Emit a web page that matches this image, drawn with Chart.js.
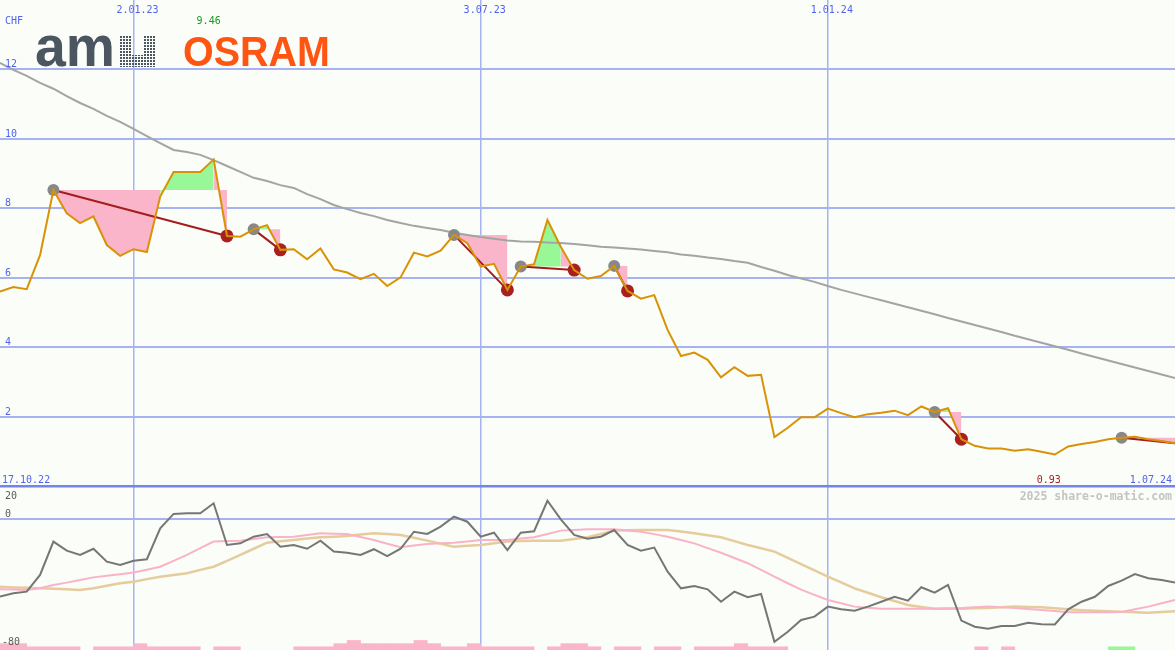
<!DOCTYPE html>
<html>
<head>
<meta charset="utf-8">
<script src="https://cdn.jsdelivr.net/npm/chart.js@4.4.1/dist/chart.umd.min.js"></script>
<style>
  html, body { margin: 0; padding: 0; background: #fbfdf9; }
  #wrap { position: relative; width: 1175px; height: 650px; overflow: hidden; }
  #priceChart { position: absolute; left: 0; top: 0; }
  #oscChart { position: absolute; left: 0; top: 490px; }
</style>
</head>
<body>
<div id="wrap">
  <canvas id="priceChart" width="1175" height="490"></canvas>
  <canvas id="oscChart" width="1175" height="160"></canvas>
</div>
<script>
// weekly closes, week 0 = 24.10.22
const price = [5.60, 5.73, 5.67, 6.65, 8.52, 7.85, 7.57, 7.76, 6.94, 6.63,
  6.82, 6.74, 8.33, 9.04, 9.04, 9.04, 9.40, 7.20, 7.18, 7.39,
  7.51, 6.80, 6.82, 6.53, 6.84, 6.24, 6.15, 5.96, 6.11, 5.76,
  6.01, 6.72, 6.61, 6.78, 7.23, 6.99, 6.32, 6.40, 5.65, 6.32,
  6.39, 7.66, 6.89, 6.22, 5.97, 6.05, 6.34, 5.62, 5.40, 5.50,
  4.50, 3.75, 3.85, 3.64, 3.14, 3.43, 3.18, 3.21, 1.42, 1.69,
  1.99, 1.99, 2.24, 2.11, 1.99, 2.08, 2.12, 2.18, 2.05, 2.30,
  2.14, 2.25, 1.36, 1.17, 1.09, 1.09, 1.03, 1.07, 1.00, 0.92,
  1.15, 1.22, 1.28, 1.36, 1.40, 1.43, 1.36, 1.31, 1.24];

const avg = [12.17, 11.97, 11.80, 11.60, 11.43, 11.22, 11.02, 10.85, 10.65, 10.48,
  10.28, 10.07, 9.87, 9.67, 9.61, 9.53, 9.38, 9.21, 9.04, 8.87,
  8.78, 8.66, 8.58, 8.40, 8.26, 8.09, 7.97, 7.86, 7.77, 7.66,
  7.57, 7.49, 7.43, 7.37, 7.29, 7.23, 7.17, 7.12, 7.07, 7.04,
  7.03, 7.01, 7.00, 6.97, 6.93, 6.89, 6.87, 6.84, 6.81, 6.77,
  6.73, 6.67, 6.63, 6.58, 6.54, 6.48, 6.43, 6.31, 6.20, 6.08,
  5.98, 5.88, 5.76, 5.65, 5.55, 5.45, 5.35, 5.25, 5.15, 5.05,
  4.95, 4.84, 4.74, 4.64, 4.54, 4.44, 4.33, 4.23, 4.13, 4.03,
  3.93, 3.82, 3.72, 3.62, 3.52, 3.42, 3.32, 3.22, 3.12];

// buy / sell signals (week index)
const entryIdx = [4, 19, 34, 39, 46, 70, 84];
const exitIdx = [17, 21, 38, 43, 47, 72];
const lastIdx = 88;

const osc = [-48.5, -46.4, -45.4, -34.9, -13.9, -19.6, -22.3, -18.4, -26.5, -28.6,
  -25.9, -25.0, -5.5, 3.5, 3.9, 3.9, 10.2, -16.0, -15.0, -10.8,
  -9.1, -17.1, -16.0, -18.4, -13.3, -20.2, -20.9, -22.3, -18.7, -23.0,
  -18.4, -7.7, -9.1, -4.5, 1.8, -1.4, -10.8, -8.3, -19.2, -8.3,
  -7.4, 11.8, 0.1, -9.7, -12.1, -10.8, -6.6, -16.0, -19.6, -17.7,
  -32.8, -43.3, -41.8, -43.9, -51.7, -45.4, -48.9, -46.9, -76.9, -70.6,
  -63.2, -61.1, -54.8, -56.5, -57.4, -54.8, -51.7, -48.6, -51.1, -42.6,
  -46.0, -41.2, -63.6, -67.4, -68.7, -67.0, -67.0, -64.9, -65.9, -66.0,
  -56.5, -51.7, -48.6, -41.8, -38.5, -34.3, -37.0, -38.1, -39.7];

const oscFast = [-43.9, -44.1, -44.3, -43.3, -41.2, -39.7, -38.0, -36.4, -35.4, -34.4,
  -33.4, -31.6, -29.7, -26.0, -22.3, -18.0, -13.9, -13.6, -13.3, -12.2,
  -11.2, -11.0, -10.8, -9.7, -8.7, -8.9, -9.1, -11.0, -12.9, -15.2,
  -17.5, -16.4, -15.4, -15.0, -14.6, -13.8, -12.9, -12.9, -12.9, -12.0,
  -11.2, -9.1, -7.0, -6.6, -6.2, -6.2, -6.2, -6.9, -7.7, -9.2,
  -10.8, -12.9, -15.0, -18.0, -20.9, -24.2, -27.5, -31.7, -36.0, -40.1,
  -44.1, -47.4, -50.6, -52.7, -54.8, -55.5, -56.1, -56.1, -56.1, -56.1,
  -56.1, -55.9, -55.7, -55.2, -54.8, -55.2, -55.7, -56.3, -56.9, -57.6,
  -58.4, -58.4, -58.4, -58.3, -58.2, -56.5, -54.8, -52.7, -50.6];

const oscSlow = [-42.3, -42.7, -43.0, -43.3, -43.6, -43.9, -44.3, -43.3, -41.7, -40.1,
  -39.1, -37.5, -36.0, -34.9, -33.8, -31.7, -29.7, -26.0, -22.3, -18.4,
  -14.6, -13.7, -12.9, -12.0, -11.2, -10.8, -10.4, -9.5, -8.7, -9.2,
  -9.7, -11.5, -13.3, -15.2, -17.1, -16.5, -16.0, -14.9, -13.9, -13.6,
  -13.3, -13.3, -13.3, -12.2, -11.2, -9.1, -7.0, -6.8, -6.6, -6.6,
  -6.6, -7.6, -8.7, -9.9, -11.2, -13.6, -16.0, -18.1, -20.2, -24.1,
  -28.0, -32.0, -36.0, -39.6, -43.3, -46.1, -48.9, -51.3, -53.8, -55.0,
  -56.1, -56.1, -56.1, -55.9, -55.7, -55.2, -54.8, -55.0, -55.2, -55.8,
  -56.5, -57.0, -57.4, -57.7, -58.0, -58.3, -58.6, -58.2, -57.7];

// bottom blocks, one per week
const pinkBars = [4, 4, 2, 2, 2, 2, 0, 2, 2, 2,
  4, 2, 2, 2, 2, 0, 2, 2, 0, 0,
  0, 0, 2, 2, 2, 4, 6, 4, 4, 4,
  4, 6, 4, 2, 2, 4, 2, 2, 2, 2,
  0, 2, 4, 4, 2, 0, 2, 2, 0, 2,
  2, 0, 2, 2, 2, 4, 2, 2, 2, 0,
  0, 0, 0, 0, 0, 0, 0, 0, 0, 0,
  0, 0, 0, 2, 0, 2, 0, 0, 0, 0,
  0, 0, 0, 0, 0, 0, 0, 0];
const greenBars = [0, 0, 0, 0, 0, 0, 0, 0, 0, 0,
  0, 0, 0, 0, 0, 0, 0, 0, 0, 0,
  0, 0, 0, 0, 0, 0, 0, 0, 0, 0,
  0, 0, 0, 0, 0, 0, 0, 0, 0, 0,
  0, 0, 0, 0, 0, 0, 0, 0, 0, 0,
  0, 0, 0, 0, 0, 0, 0, 0, 0, 0,
  0, 0, 0, 0, 0, 0, 0, 0, 0, 0,
  0, 0, 0, 0, 0, 0, 0, 0, 0, 0,
  0, 0, 0, 2, 2, 0, 0, 0];

const dateTicks = [10, 36, 62];
const dateLabels = ['2.01.23', '3.07.23', '1.01.24'];
const startLabel = '17.10.22';
const endLabel = '1.07.24';
const priceTicks = [2, 4, 6, 8, 10, 12];
const highIdx = 16, highLabel = '9.46';
const lowIdx = 79, lowLabel = '0.93';

const ORANGE = '#d99206';
const PINK = '#fbb5ca';
const GREEN = '#98f898';
const GRID = '#a6b2f2';
const BLUE_TXT = '#5062ee';
const MONO = '"DejaVu Sans Mono", monospace';

const pts = (arr, from) => arr.map((v, i) => ({x: i + (from || 0), y: v}));

const datasets = [
    {data: pts(price), borderColor: ORANGE, borderWidth: 2, order: 0},
    {data: exitIdx.map(i => ({x: i, y: price[i]})), showLine: false, pointRadius: 6.5,
        pointBackgroundColor: '#a82020', pointBorderWidth: 0, order: 1},
    {data: entryIdx.map(i => ({x: i, y: price[i]})), showLine: false, pointRadius: 6,
        pointBackgroundColor: '#888888', pointBorderWidth: 0, order: 2},
    {data: pts(avg), borderColor: '#a4a4a4', borderWidth: 2, order: 4}
];

entryIdx.forEach((s, k) => {
    const e = k < exitIdx.length ? exitIdx[k] : lastIdx;
    const lvl = price[s];
    datasets.push({data: [{x: s, y: price[s]}, {x: e, y: price[e]}],
        borderColor: '#a41c1c', borderWidth: 2, order: 3});
    datasets.push({data: [{x: s, y: lvl}, {x: e, y: lvl}],
        borderColor: 'transparent', borderWidth: 0, order: 9});
    datasets.push({data: pts(price.slice(s, e + 1), s),
        borderColor: 'transparent', borderWidth: 0, backgroundColor: PINK,
        fill: '-1', order: 9,
        segment: {backgroundColor: c => c.p1.parsed.y >= lvl ? GREEN : PINK}});
});

function xScale() {
    return {
        type: 'linear', min: 0, max: 88, offset: false,
        afterBuildTicks: s => { s.ticks = dateTicks.map(v => ({value: v})); },
        ticks: {display: false},
        grid: {color: GRID, lineWidth: 1.5, drawTicks: false, offset: false},
        border: {display: false}
    };
}

const priceLabels = {
    id: 'priceLabels',
    afterDraw(chart) {
        const {ctx} = chart;
        const x = chart.scales.x, y = chart.scales.y;
        ctx.save();

        // logo
        ctx.fillStyle = '#4b5661';
        ctx.font = 'bold 58px "Liberation Sans", Arial, sans-serif';
        ctx.textAlign = 'left';
        ctx.textBaseline = 'alphabetic';
        ctx.fillText('am', 35, 66, 80);
        const tile = document.createElement('canvas');
        tile.width = 3; tile.height = 3;
        const tc = tile.getContext('2d');
        tc.fillStyle = '#4b5661';
        tc.fillRect(0, 0, 2, 2);
        ctx.fillStyle = ctx.createPattern(tile, 'repeat');
        ctx.beginPath();
        ctx.moveTo(120, 35); ctx.lineTo(132, 35); ctx.lineTo(132, 55); ctx.lineTo(143, 55);
        ctx.lineTo(143, 35); ctx.lineTo(155, 35); ctx.lineTo(155, 67); ctx.lineTo(120, 67);
        ctx.closePath();
        ctx.fill();
        ctx.fillStyle = '#ff5512';
        ctx.font = 'bold 43px "Liberation Sans", Arial, sans-serif';
        ctx.fillText('OSRAM', 183, 66, 147);

        ctx.font = '10px ' + MONO;
        ctx.fillStyle = BLUE_TXT;
        priceTicks.forEach(v => ctx.fillText(String(v), 5, y.getPixelForValue(v) - 2));
        ctx.fillText('CHF', 5, 24);
        ctx.fillText(startLabel, 2, 483);
        ctx.textAlign = 'center';
        dateTicks.forEach((w, k) => ctx.fillText(dateLabels[k], x.getPixelForValue(w) + 4, 13));
        ctx.textAlign = 'right';
        ctx.fillText(endLabel, 1172, 483);

        ctx.textAlign = 'center';
        ctx.fillStyle = '#1a9a1a';
        ctx.fillText(highLabel, x.getPixelForValue(highIdx) - 5, 24);
        ctx.fillStyle = '#a81c1c';
        ctx.fillText(lowLabel, x.getPixelForValue(lowIdx) - 6, 483);
        ctx.restore();
    }
};

new Chart(document.getElementById('priceChart'), {
    type: 'line',
    data: {datasets: datasets},
    plugins: [priceLabels],
    options: {
        responsive: false,
        animation: false,
        events: [],
        layout: {padding: 0, autoPadding: false},
        elements: {point: {radius: 0}, line: {tension: 0, fill: false}},
        plugins: {legend: {display: false}, tooltip: {enabled: false},
            filler: {drawTime: 'beforeDatasetsDraw'}},
        scales: {
            x: xScale(),
            y: {
                type: 'linear', min: -0.1, max: 13.98,
                afterBuildTicks: s => { s.ticks = [0].concat(priceTicks).map(v => ({value: v})); },
                ticks: {display: false},
                grid: {
                    color: c => c.tick.value === 0 ? '#7384ea' : GRID,
                    lineWidth: c => c.tick.value === 0 ? 2.5 : 2,
                    drawTicks: false
                },
                border: {display: false}
            }
        }
    }
});

const OSC_MIN = -82.08;
const bars = (arr) => arr.map((h, i) => ({x: i + 0.5, y: [OSC_MIN, OSC_MIN + h]})).filter((p, i) => arr[i] > 0);

const oscLabels = {
    id: 'oscLabels',
    afterDraw(chart) {
        const {ctx} = chart;
        const y = chart.scales.y;
        ctx.save();
        ctx.font = '10px ' + MONO;
        ctx.fillStyle = '#5a5a5a';
        ctx.textAlign = 'left';
        ctx.fillText('20', 5, 9);
        ctx.fillText('0', 5, y.getPixelForValue(0) - 2);
        ctx.fillText('-80', 2, y.getPixelForValue(-80) - 2);
        ctx.font = 'bold 11.5px ' + MONO;
        ctx.fillStyle = '#c4c4c4';
        ctx.textAlign = 'right';
        ctx.fillText('2025 share-o-matic.com', 1172, 10);
        ctx.restore();
    }
};

new Chart(document.getElementById('oscChart'), {
    type: 'line',
    data: {
        datasets: [
            {data: pts(osc), borderColor: '#767676', borderWidth: 2, order: 0},
            {data: pts(oscFast), borderColor: '#f9b3c8', borderWidth: 2, order: 1},
            {data: pts(oscSlow), borderColor: '#e6cc9c', borderWidth: 2.5, order: 2},
            {type: 'bar', data: bars(pinkBars), backgroundColor: PINK, borderWidth: 0,
                grouped: false, barPercentage: 1, categoryPercentage: 1, order: 3},
            {type: 'bar', data: bars(greenBars), backgroundColor: GREEN, borderWidth: 0,
                grouped: false, barPercentage: 1, categoryPercentage: 1, order: 3}
        ]
    },
    plugins: [oscLabels],
    options: {
        responsive: false,
        animation: false,
        events: [],
        layout: {padding: 0, autoPadding: false},
        elements: {point: {radius: 0}, line: {tension: 0, fill: false}},
        plugins: {legend: {display: false}, tooltip: {enabled: false}},
        scales: {
            x: xScale(),
            y: {
                type: 'linear', min: OSC_MIN, max: 18.55,
                afterBuildTicks: s => { s.ticks = [{value: 0}]; },
                ticks: {display: false},
                grid: {color: GRID, lineWidth: 2, drawTicks: false},
                border: {display: false}
            }
        }
    }
});
</script>
</body>
</html>
